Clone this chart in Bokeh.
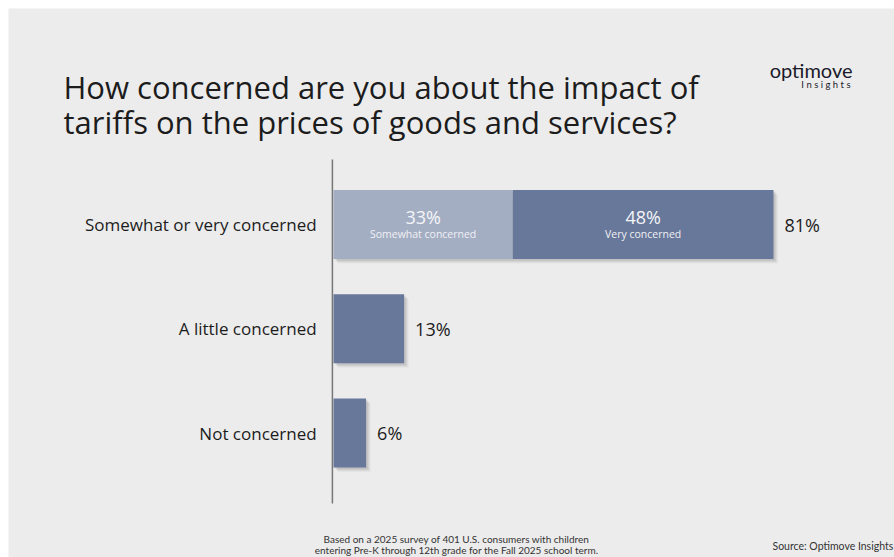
from bokeh.plotting import figure
from bokeh.models import Range1d
from bokeh.core.properties import value
from bokeh.embed import file_html
from bokeh.resources import INLINE

# ---- data ----
categories = ["Somewhat or very concerned", "A little concerned", "Not concerned"]
totals = [81, 13, 6]
split_labels = ["Somewhat concerned", "Very concerned"]
split_values = [33, 48]

title_lines = ["How concerned are you about the impact of",
               "tariffs on the prices of goods and services?"]
footnote_lines = ["Based on a 2025 survey of 401 U.S. consumers with children",
                  "entering Pre-K through 12th grade for the Fall 2025 school term."]
source_text = "Source: Optimove Insights"

FONT = "Open Sans"
SMALL_FONT = "Lato"
BG = "#ECECEC"
DARK = "#68789A"
LIGHT = "#A4AEC3"
INK = "#1C1C1C"

W, H = 894, 557
PAD_L, PAD_T = 8, 8
ZERO_PX = 333          # pixel column of the value axis origin
PX_PER_PCT = 5.432     # horizontal scale

x_start = (PAD_L - ZERO_PX) / PX_PER_PCT
x_end = (W - ZERO_PX) / PX_PER_PCT
px = 1 / PX_PER_PCT


def at_px(xp):
    """Data x for a given pixel column."""
    return x_start + (xp - PAD_L) * px


p = figure(width=W, height=H, output_backend="svg", toolbar_location=None,
           x_range=Range1d(x_start, x_end), y_range=Range1d(H, PAD_T),
           min_border_left=PAD_L, min_border_top=PAD_T,
           min_border_right=0, min_border_bottom=0)
p.background_fill_color = BG
p.border_fill_color = "white"
p.outline_line_color = None
p.grid.visible = False
p.axis.visible = False

# row layout (vertical positions in pixels from the top)
row0, row_step, bar_h = 224, 104.25, 69
ys = [row0 + i * row_step for i in range(len(categories))]
lefts = [0] * len(totals)

# soft drop shadow under every bar
for k, a in [(4.5, 0.05), (3.5, 0.07), (2.5, 0.09), (1.5, 0.1)]:
    p.quad(left=[l + k * px for l in lefts], right=[t + k * px for t in totals],
           bottom=[y + bar_h / 2 + k for y in ys], top=[y - bar_h / 2 + k for y in ys],
           fill_color="#555555", fill_alpha=a, line_color=None)

p.hbar(y=ys[1:], left=lefts[1:], right=totals[1:], height=bar_h,
       fill_color=DARK, line_color=None)

seg_left = [0, split_values[0]]
seg_right = [split_values[0], split_values[0] + split_values[1]]
p.hbar(y=[ys[0]] * 2, left=seg_left, right=seg_right, height=bar_h,
       fill_color=[LIGHT, DARK], line_color=None)

# axis line
p.segment(x0=[-0.2], x1=[-0.2], y0=[159], y1=[503], line_color="#777777", line_width=1.5)

# category labels
p.text(x=[-3.1] * 3, y=ys, text=categories, text_align="right", text_baseline="middle",
       text_font=value(FONT), text_font_size="17px", text_color=INK)

# totals
p.text(x=[t + 11 * px for t in totals], y=ys, text=[f"{t}%" for t in totals],
       text_align="left", text_baseline="middle", text_font=value(FONT),
       text_font_size="18px", text_color=INK)

# split labels inside the first bar
mids = [(a + b) / 2 for a, b in zip(seg_left, seg_right)]
p.text(x=mids, y=[ys[0] - 8] * 2, text=[f"{v}%" for v in split_values],
       text_align="center", text_baseline="middle", text_font=value(FONT),
       text_font_size="18px", text_color="#F4F5F8")
p.text(x=mids, y=[ys[0] + 9] * 2, text=split_labels,
       text_align="center", text_baseline="middle", text_font=value(FONT),
       text_font_size="10.5px", text_color="#F0F1F5")

# title
p.text(x=[at_px(63)] * 2, y=[86, 121], text=title_lines,
       text_align="left", text_baseline="alphabetic", text_font=value(FONT),
       text_font_size="31px", text_color=INK)

# brand mark
p.text(x=[at_px(852)], y=[69], text=["optimove"],
       text_align="right", text_baseline="alphabetic", text_font=value(SMALL_FONT),
       text_font_size="20px", text_color="#1A1A2A")
p.text(x=[at_px(850)], y=[84], text=["I n s i g h t s"],
       text_align="right", text_baseline="alphabetic", text_font=value(SMALL_FONT),
       text_font_size="9.5px", text_color="#1A1A2A")

# footnotes
p.text(x=[at_px(456)] * 2, y=[538, 549], text=footnote_lines,
       text_align="center", text_baseline="middle", text_font=value(SMALL_FONT),
       text_font_size="10px", text_color="#333333")
p.text(x=[at_px(772)], y=[545], text=[source_text],
       text_align="left", text_baseline="middle", text_font=value(SMALL_FONT),
       text_font_size="10.5px", text_color="#333333")

open("out.html", "w").write(file_html(p, INLINE))
